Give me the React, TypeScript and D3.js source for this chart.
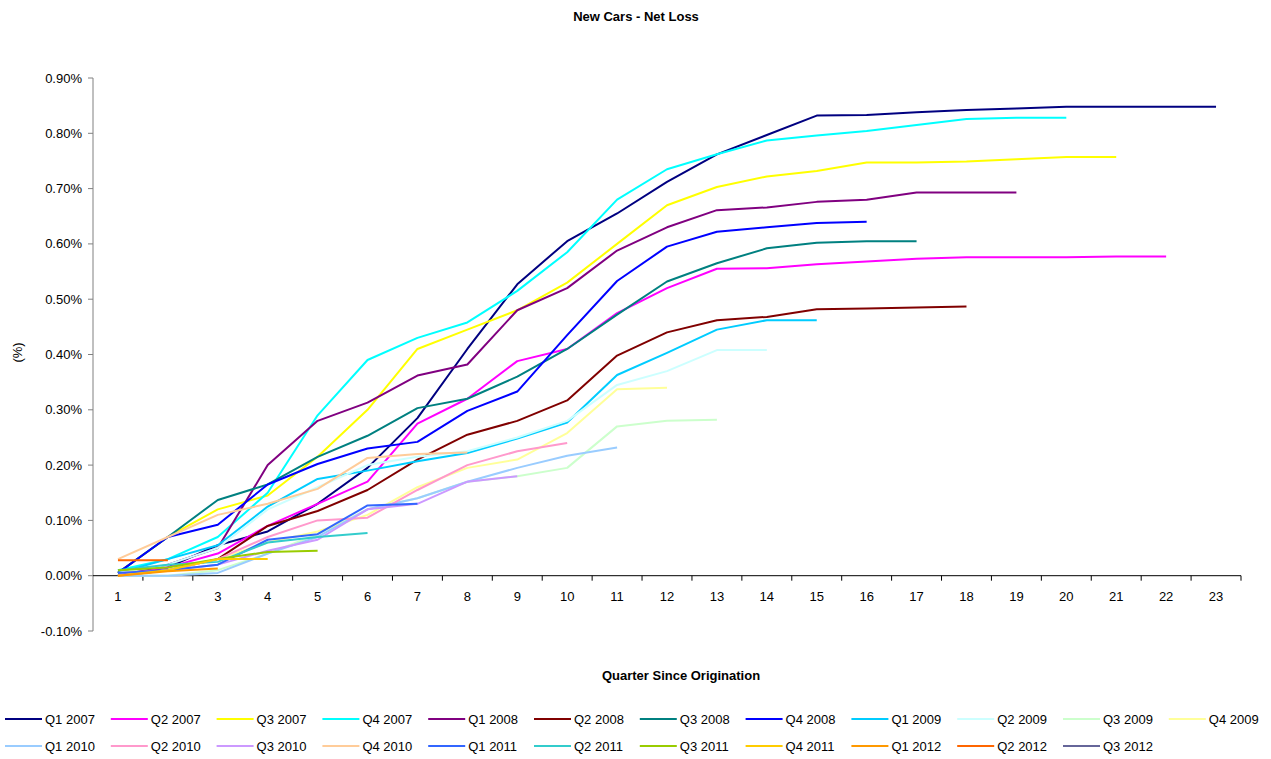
import React from "react";
import * as d3 from "d3";

const quarters = Array.from({ length: 23 }, (_, i) => i + 1);
const yTicks = [-0.1, 0, 0.1, 0.2, 0.3, 0.4, 0.5, 0.6, 0.7, 0.8, 0.9];

const seriesNames = [
  "Q1 2007", "Q2 2007", "Q3 2007", "Q4 2007", "Q1 2008", "Q2 2008", "Q3 2008", "Q4 2008",
  "Q1 2009", "Q2 2009", "Q3 2009", "Q4 2009", "Q1 2010", "Q2 2010", "Q3 2010", "Q4 2010",
  "Q1 2011", "Q2 2011", "Q3 2011", "Q4 2011", "Q1 2012", "Q2 2012", "Q3 2012",
];

const seriesColors = [
  "#000080", "#FF00FF", "#FFFF00", "#00FFFF", "#800080", "#800000", "#008080", "#0000FF",
  "#00CCFF", "#CCFFFF", "#CCFFCC", "#FFFF99", "#99CCFF", "#FF99CC", "#CC99FF", "#FFCC99",
  "#3366FF", "#33CCCC", "#99CC00", "#FFCC00", "#FF9900", "#FF6600", "#666699",
];

// values in percent
const q1_2007 = [0.0, 0.015, 0.055, 0.08, 0.13, 0.195, 0.285, 0.41, 0.527, 0.605, 0.655, 0.712, 0.762, 0.797, 0.832, 0.833, 0.838, 0.842, 0.845, 0.848, 0.848, 0.848, 0.848];
const q2_2007 = [0.005, 0.015, 0.04, 0.09, 0.13, 0.17, 0.275, 0.32, 0.388, 0.41, 0.475, 0.52, 0.555, 0.556, 0.563, 0.568, 0.573, 0.576, 0.576, 0.576, 0.577, 0.577];
const q3_2007 = [0.005, 0.07, 0.12, 0.145, 0.215, 0.3, 0.41, 0.445, 0.48, 0.53, 0.6, 0.67, 0.703, 0.722, 0.732, 0.747, 0.747, 0.749, 0.753, 0.757, 0.757];
const q4_2007 = [0.01, 0.03, 0.07, 0.15, 0.29, 0.39, 0.43, 0.458, 0.515, 0.585, 0.68, 0.735, 0.762, 0.787, 0.796, 0.804, 0.815, 0.826, 0.828, 0.828];
const q1_2008 = [0.0, 0.02, 0.05, 0.2, 0.28, 0.313, 0.362, 0.382, 0.48, 0.52, 0.588, 0.63, 0.661, 0.666, 0.676, 0.68, 0.693, 0.693, 0.693];
const q2_2008 = [0.0, 0.01, 0.03, 0.09, 0.117, 0.155, 0.21, 0.255, 0.28, 0.317, 0.398, 0.44, 0.462, 0.468, 0.482, 0.483, 0.485, 0.487];
const q3_2008 = [0.005, 0.07, 0.137, 0.165, 0.215, 0.253, 0.303, 0.32, 0.36, 0.41, 0.472, 0.532, 0.565, 0.592, 0.602, 0.605, 0.605];
const q4_2008 = [0.005, 0.07, 0.092, 0.165, 0.202, 0.23, 0.242, 0.298, 0.333, 0.435, 0.533, 0.595, 0.622, 0.63, 0.638, 0.64];
const q1_2009 = [0.005, 0.03, 0.055, 0.125, 0.175, 0.19, 0.207, 0.222, 0.248, 0.277, 0.363, 0.403, 0.445, 0.462, 0.462];
const q2_2009 = [0.005, 0.02, 0.05, 0.12, 0.16, 0.2, 0.215, 0.225, 0.25, 0.28, 0.345, 0.37, 0.408, 0.408];
const q3_2009 = [0.0, 0.0, 0.01, 0.04, 0.075, 0.12, 0.14, 0.17, 0.18, 0.195, 0.27, 0.28, 0.282];
const q4_2009 = [0.0, 0.01, 0.03, 0.06, 0.08, 0.11, 0.16, 0.195, 0.21, 0.258, 0.337, 0.34];
const q1_2010 = [0.0, 0.0, 0.005, 0.04, 0.07, 0.12, 0.14, 0.17, 0.195, 0.217, 0.232];
const q2_2010 = [0.005, 0.01, 0.03, 0.07, 0.1, 0.105, 0.155, 0.2, 0.225, 0.24];
const q3_2010 = [0.0, 0.01, 0.02, 0.045, 0.065, 0.12, 0.13, 0.17, 0.18];
const q4_2010 = [0.03, 0.07, 0.11, 0.13, 0.157, 0.213, 0.22, 0.223];
const q1_2011 = [0.005, 0.01, 0.02, 0.065, 0.075, 0.127, 0.13];
const q2_2011 = [0.01, 0.02, 0.025, 0.06, 0.07, 0.077];
const q3_2011 = [0.01, 0.015, 0.03, 0.043, 0.045];
const q4_2011 = [0.0, 0.01, 0.03, 0.03];
const q1_2012 = [0.0, 0.008, 0.013];
const q2_2012 = [0.028, 0.028];
const q3_2012 = [0.0];

const seriesValues = [
  q1_2007, q2_2007, q3_2007, q4_2007, q1_2008, q2_2008, q3_2008, q4_2008,
  q1_2009, q2_2009, q3_2009, q4_2009, q1_2010, q2_2010, q3_2010, q4_2010,
  q1_2011, q2_2011, q3_2011, q4_2011, q1_2012, q2_2012, q3_2012,
];

const FONT = "Liberation Sans, Arial, sans-serif";

export default function App() {
  const left = 93, right = 1241, top = 78, bottom = 631;
  const x = d3.scaleBand<number>().domain(quarters).range([left, right]);
  const y = d3.scaleLinear().domain([-0.1, 0.9]).range([bottom, top]);
  const cx = (q: number) => (x(q) as number) + x.bandwidth() / 2;
  const line = d3.line<number>().x((_, i) => cx(i + 1)).y((v) => y(v));
  const y0 = y(0);
  const fmt = (t: number) => d3.format(".2f")(t).replace("\u2212", "-") + "%";

  const legendStep = 105.8;

  return (
    <svg width={1271} height={759} style={{ position: "absolute", left: 0, top: 0, background: "#fff" }} fontFamily={FONT}>
      <rect x={0} y={0} width={1271} height={759} fill="#fff" />
      <text x={636} y={21} textAnchor="middle" fontSize={13} fontWeight="bold">New Cars - Net Loss</text>

      {/* y axis */}
      <line x1={left} x2={left} y1={top} y2={bottom} stroke="#808080" strokeWidth={1} />
      {yTicks.map((t) => (
        <g key={t}>
          <line x1={left - 5} x2={left} y1={y(t)} y2={y(t)} stroke="#808080" />
          <text x={82} y={y(t)} dy="0.35em" textAnchor="end" fontSize={13}>{fmt(t)}</text>
        </g>
      ))}
      <text transform={`translate(22,${(top + bottom) / 2 - 2}) rotate(-90)`} textAnchor="middle" fontSize={13}>(%)</text>

      {/* x axis */}
      <line x1={left} x2={right} y1={y0} y2={y0} stroke="#000" strokeWidth={1} />
      {quarters.map((q) => (
        <g key={q}>
          <line x1={(x(q) as number) + x.bandwidth()} x2={(x(q) as number) + x.bandwidth()} y1={y0} y2={y0 + 5} stroke="#000" />
          <text x={cx(q)} y={y0 + 25} textAnchor="middle" fontSize={13}>{q}</text>
        </g>
      ))}
      <text x={681} y={680} textAnchor="middle" fontSize={13} fontWeight="bold">Quarter Since Origination</text>

      {/* series */}
      {seriesValues.map((vals, i) => (
        <path key={seriesNames[i]} d={line(vals) || ""} fill="none" stroke={seriesColors[i]} strokeWidth={2} strokeLinejoin="round" />
      ))}

      {/* legend */}
      {seriesNames.map((name, i) => {
        const row = Math.floor(i / 12);
        const col = i % 12;
        const lx = 5 + col * legendStep;
        const ly = 719 + row * 27;
        return (
          <g key={name}>
            <line x1={lx} x2={lx + 37} y1={ly} y2={ly} stroke={seriesColors[i]} strokeWidth={2} />
            <text x={lx + 40} y={ly} dy="0.35em" fontSize={13}>{name}</text>
          </g>
        );
      })}
    </svg>
  );
}
